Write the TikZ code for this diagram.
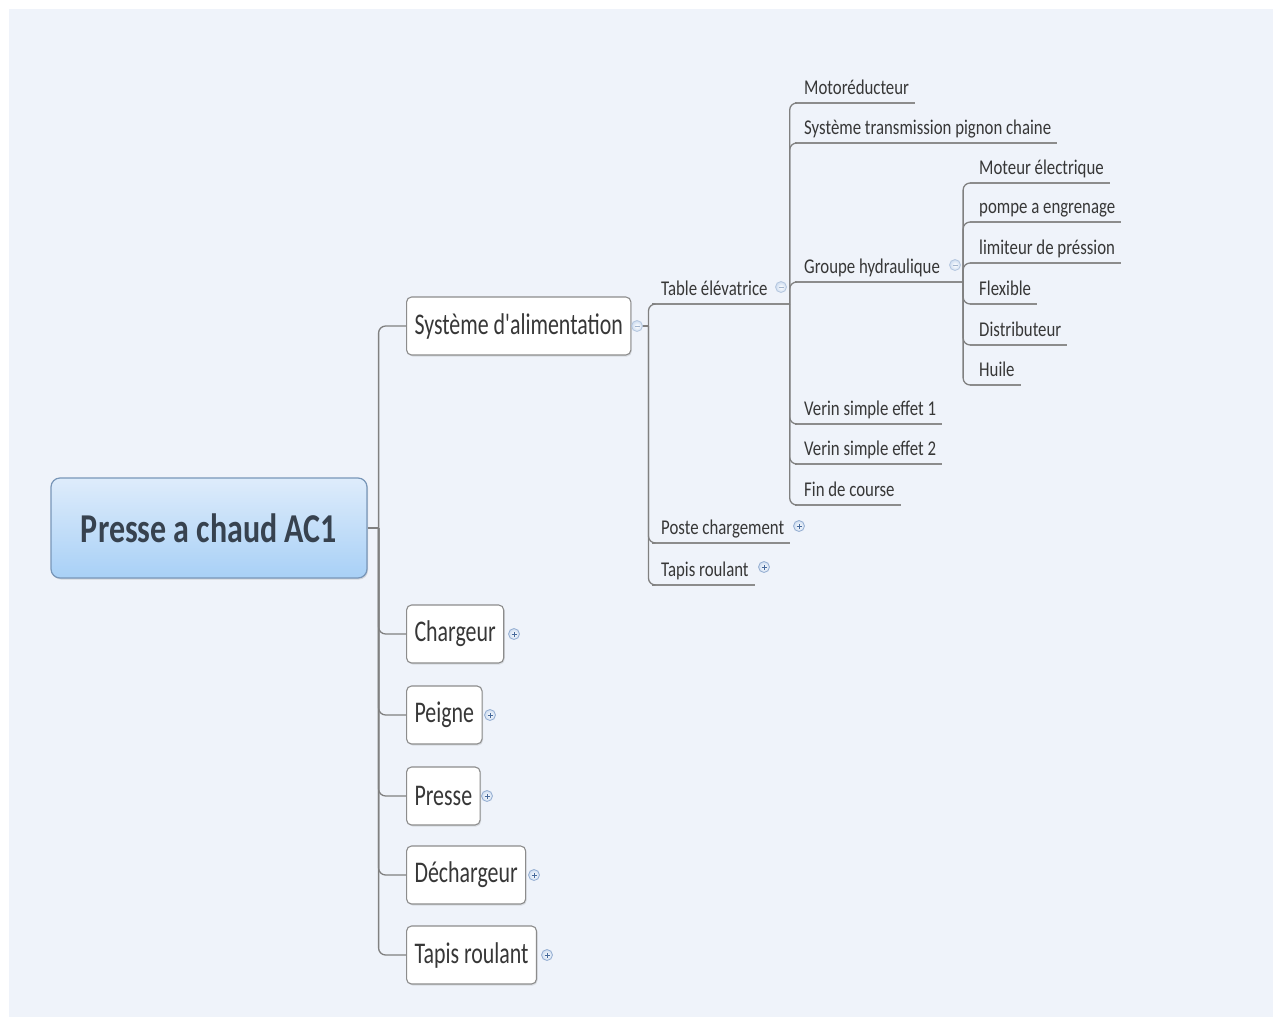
\documentclass[tikz,border=0pt]{standalone}
\usepackage{fontspec}
\usetikzlibrary{shadows}
\newfontfamily\rootfont[FakeStretch=0.78]{Carlito}
\newfontfamily\lonefont[FakeStretch=0.73]{Carlito}
\newfontfamily\subfont[FakeStretch=0.80]{Carlito}
\definecolor{canvas}{RGB}{239,243,250}
\definecolor{linegray}{RGB}{128,128,128}
\definecolor{ulgray}{RGB}{140,140,140}
\definecolor{textgray}{RGB}{55,55,55}
\definecolor{roottext}{RGB}{55,66,79}
\definecolor{roottop}{RGB}{222,236,251}
\definecolor{rootbot}{RGB}{168,208,246}
\definecolor{rootedge}{RGB}{120,150,184}
\definecolor{markedge}{RGB}{150,175,210}
\definecolor{markfill}{RGB}{205,220,240}
\definecolor{marksign}{RGB}{70,105,155}
\begin{document}
\begin{tikzpicture}[x=1pt,y=-1pt,
  conn/.style={draw=linegray, line width=1.3pt, rounded corners=7pt},
  root/.style={draw=rootedge, line width=1.2pt, rounded corners=9pt,
    top color=roottop, bottom color=rootbot,
    minimum width=316pt, minimum height=100pt, inner sep=0pt,
    text=roottext, font=\rootfont\bfseries\fontsize{41pt}{48pt}\selectfont,
    drop shadow={shadow xshift=1pt, shadow yshift=-1.5pt, opacity=0.25}},
  box/.style={draw=ulgray, line width=1.1pt, fill=white, rounded corners=5pt,
    anchor=west, inner xsep=8pt, minimum height=58pt,
    text=textgray, font=\lonefont\fontsize{30pt}{36pt}\selectfont,
    drop shadow={shadow xshift=1pt, shadow yshift=-1.5pt, opacity=0.2}},
  ul/.style={anchor=south west, inner xsep=0pt, inner ysep=3.5pt,
    text height=15pt, text depth=5pt,
    text=textgray, font=\subfont\fontsize{21pt}{25pt}\selectfont,
    execute at begin node={\hspace*{9pt}},
    execute at end node={\hspace*{6pt}},
    append after command={(\tikzlastnode.south west)
      edge[draw=ulgray, line width=2pt] (\tikzlastnode.south east)}},
  marker/.style={circle, minimum size=11pt, inner sep=0pt, draw=markedge,
    line width=0.8pt, inner color=white, outer color=markfill},
  plus/.style={marker, path picture={
    \draw[marksign, line width=1pt]
      ([xshift=-2.5pt]path picture bounding box.center) --
      ([xshift=2.5pt]path picture bounding box.center)
      ([yshift=-2.5pt]path picture bounding box.center) --
      ([yshift=2.5pt]path picture bounding box.center);}},
  minus/.style={marker, draw=markedge!70, path picture={
    \draw[marksign!50, line width=1pt]
      ([xshift=-2.5pt]path picture bounding box.center) --
      ([xshift=2.5pt]path picture bounding box.center);}}
]
% canvas
\useasboundingbox (0,0) rectangle (1276,1019);
\fill[white] (0,0) rectangle (1276,1019);
\fill[canvas] (9,9) rectangle (1273,1017);

% central topic
\node[root] (root) at (209,528) {Presse a chaud AC1};

% main branches
\node[box] (sys)    at (406,326) {Système d'alimentation};
\node[box] (charg)  at (406,634) {Chargeur};
\node[box] (peigne) at (406,715) {Peigne};
\node[box] (presse) at (406,796) {Presse};
\node[box] (dech)   at (406,875) {Déchargeur};
\node[box] (tapis)  at (406,955) {Tapis roulant};

% sub-topics of the feeding system
\node[ul] (tab)    at (652,304) {Table élévatrice\hspace*{16pt}};
\node[ul] (poste)  at (652,543) {Poste chargement};
\node[ul] (tapisb) at (652,585) {Tapis roulant};

% lifting table parts
\node[ul] (motor)  at (795,103) {Motoréducteur};
\node[ul] (trans)  at (795,143) {Système transmission pignon chaine};
\node[ul] (groupe) at (795,282) {Groupe hydraulique\hspace*{17pt}};
\node[ul] (verina) at (795,424) {Verin simple effet 1};
\node[ul] (verinb) at (795,464) {Verin simple effet 2};
\node[ul] (fin)    at (795,505) {Fin de course};

% hydraulic unit parts
\node[ul] (moteur)  at (970,183) {Moteur électrique};
\node[ul] (pompe)   at (970,222) {pompe a engrenage};
\node[ul] (limit)   at (970,263) {limiteur de préssion};
\node[ul] (flex)    at (970,304) {Flexible};
\node[ul] (distrib) at (970,345) {Distributeur};
\node[ul] (huile)   at (970,385) {Huile};

% connectors
\draw[conn] (root.east) -- ++(11,0);
\foreach \c in {sys,charg,peigne,presse,dech,tapis}
  \draw[conn] ([xshift=11pt]root.east) |- (\c.west);

\draw[conn] (sys.east) -- ++(17,0);
\foreach \c in {tab,poste,tapisb}
  \draw[conn] ([xshift=17pt]sys.east) |- (\c.south west);

\foreach \c in {motor,trans,groupe,verina,verinb,fin}
  \draw[conn] (tab.south east) |- (\c.south west);

\foreach \c in {moteur,pompe,limit,flex,distrib,huile}
  \draw[conn] (groupe.south east) |- (\c.south west);

% expand / collapse markers
\node[minus] (m-sys)    at (637,326) {};
\node[plus]  (m-charg)  at (514,634) {};
\node[plus]  (m-peigne) at (490,715) {};
\node[plus]  (m-presse) at (487,796) {};
\node[plus]  (m-dech)   at (534,875) {};
\node[plus]  (m-tapis)  at (547,955) {};
\node[minus] (m-tab)    at (781,287) {};
\node[plus]  (m-poste)  at (799,526) {};
\node[plus]  (m-tapisb) at (764,567) {};
\node[minus] (m-groupe) at (955,265) {};
\end{tikzpicture}
\end{document}
